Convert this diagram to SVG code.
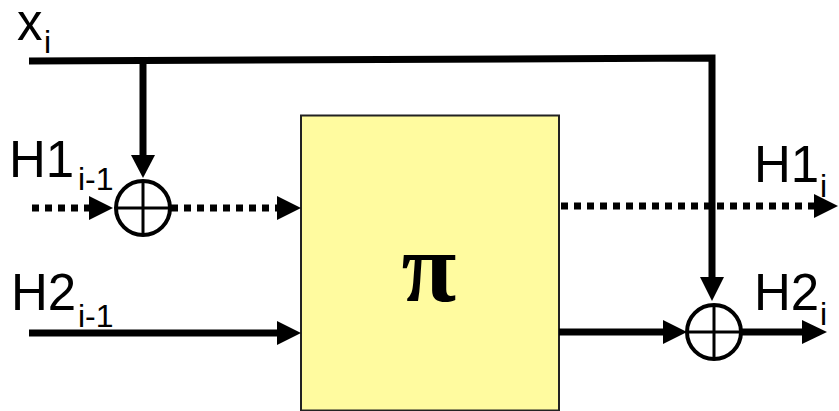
<svg xmlns="http://www.w3.org/2000/svg" width="839" height="411" viewBox="0 0 839 411">
<style>
.lbl{font-family:"Liberation Sans",Arial,sans-serif;font-size:51px;fill:#000}
.sub{font-family:"Liberation Sans",Arial,sans-serif;font-size:32px;fill:#000}
.solid{stroke:#000;stroke-width:7;fill:none}
.dot{stroke:#000;stroke-width:7;fill:none;stroke-dasharray:7 6}
.xor{stroke:#000;stroke-width:4;fill:#fff}
.bar{stroke:#000;stroke-width:3}
</style>
<g id="pi-box">
<rect x="301" y="115.5" width="258" height="295" fill="#FFFB9F" stroke="#222" stroke-width="2"/>
<text x="429" y="301" text-anchor="middle" font-family="'Liberation Serif','Times New Roman',serif" font-weight="bold" font-size="100">π</text>
</g>
<g id="connectors">
<path class="solid" d="M29,61 L712,58 L712,278"/>
<path class="solid" d="M143,61 L143,156"/>
<path d="M131,155 L155,155 L143,178 Z" fill="#000"/>
<path d="M700,277 L724,277 L712,301 Z" fill="#000"/>
<path class="dot" d="M32,208 L92,208"/>
<path d="M89,196 L113,208 L89,220 Z" fill="#000"/>
<path class="dot" d="M171,208 L280,208"/>
<path d="M277,196 L301,208 L277,220 Z" fill="#000"/>
<path class="dot" d="M561,206 L817,206"/>
<path d="M814,194 L838,206 L814,218 Z" fill="#000"/>
<path class="solid" d="M29,333 L280,333"/>
<path d="M277,321 L301,333 L277,345 Z" fill="#000"/>
<path class="solid" d="M559,332 L666,332"/>
<path d="M663,320 L687,332 L663,344 Z" fill="#000"/>
<path class="solid" d="M742,332 L805,332"/>
<path d="M802,320 L827,332 L802,344 Z" fill="#000"/>
</g>
<g id="xor1">
<circle class="xor" cx="143" cy="208" r="27"/>
<path class="bar" d="M116,208 H170 M143,181 V235"/>
</g>
<g id="xor2">
<circle class="xor" cx="714" cy="332" r="27"/>
<path class="bar" d="M687,332 H741 M714,305 V359"/>
</g>
<g id="labels">
<text class="lbl" x="17" y="40">x</text><text class="sub" x="44" y="53">i</text>
<text class="lbl" x="9" y="177">H1</text><text class="sub" x="78" y="190">i-1</text>
<text class="lbl" x="11" y="310">H2</text><text class="sub" x="78" y="327">i-1</text>
<text class="lbl" x="754" y="182">H1</text><text class="sub" x="820" y="197">i</text>
<text class="lbl" x="754" y="310">H2</text><text class="sub" x="820" y="325">i</text>
</g>
</svg>
